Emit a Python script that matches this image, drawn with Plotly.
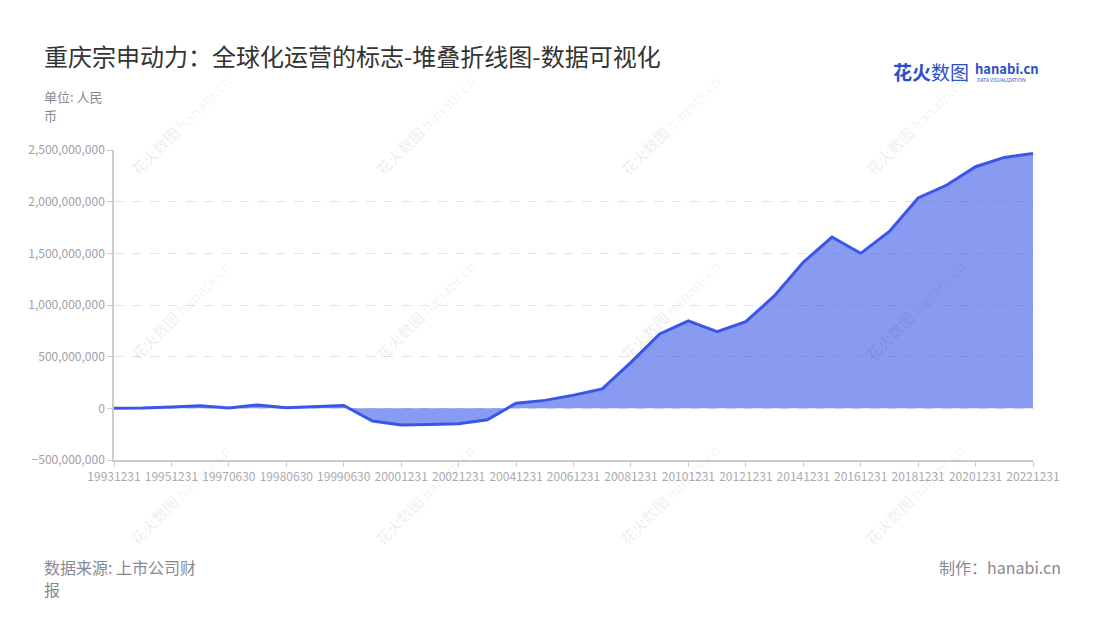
import plotly.graph_objects as go

# Reporting dates (category axis) and the plotted series, in RMB
dates = [
    "19931231", "19941231", "19951231", "19961231", "19970630", "19971231",
    "19980630", "19981231", "19990630", "19991231", "20001231", "20011231",
    "20021231", "20031231", "20041231", "20051231", "20061231", "20071231",
    "20081231", "20091231", "20101231", "20111231", "20121231", "20131231",
    "20141231", "20151231", "20161231", "20171231", "20181231", "20191231",
    "20201231", "20211231", "20221231",
]
values = [
    2e6, 3e6, 12e6, 25e6, 4e6, 33e6,
    6e6, 20e6, 27e6, -123e6, -162e6, -157e6,
    -150e6, -110e6, 50e6, 77e6, 128e6, 188e6,
    445e6, 720e6, 846e6, 742e6, 839e6, 1090e6,
    1413e6, 1658e6, 1500e6, 1712e6, 2036e6, 2161e6,
    2338e6, 2428e6, 2467e6,
]
x_tick_labels = dates[::2]
y_ticks = [-500000000, 0, 500000000, 1000000000, 1500000000, 2000000000, 2500000000]

FONT = "Noto Sans CJK SC"
W, H = 1100, 620
L, R, T, B = 114, 67, 150, 160


def px(x, y):
    """Convert page pixel position to paper coordinates."""
    return (x - L) / (W - L - R), (H - B - y) / (H - T - B)


fig = go.Figure(
    go.Scatter(
        x=dates,
        y=values,
        mode="lines",
        line=dict(color="#3a56e8", width=3),
        fill="tozeroy",
        fillcolor="rgba(58,86,232,0.6)",
        hoverinfo="x+y",
    )
)

annotations = []


def text(x, y, s, size, color, xanchor="left", yanchor="middle", **kw):
    xp, yp = px(x, y)
    annotations.append(dict(
        x=xp, y=yp, xref="paper", yref="paper", text=s, showarrow=False,
        xanchor=xanchor, yanchor=yanchor, align="left", borderpad=0,
        font=dict(family=FONT, size=size, color=color), **kw,
    ))


# faint diagonal watermarks
for cx in (180, 425, 670, 915):
    for cy in (125, 310, 495):
        text(cx, cy, "<b>花火数图</b> hanabi.cn", 15, "rgba(0,0,0,0.06)",
             xanchor="center", textangle=-45)

# title, unit note (wrapped), footer (wrapped)
text(43, 55, "重庆宗申动力：全球化运营的标志-堆叠折线图-数据可视化", 24, "#333333")
text(43, 96, "单位: 人民", 13, "#888890")
text(43, 115, "币", 13, "#888890")
text(43, 567, "数据来源: 上市公司财", 16, "#888890")
text(43, 589, "报", 16, "#888890")
text(1062, 567, "制作：hanabi.cn", 16, "#888890", xanchor="right")

# brand mark top right
text(892, 72, "<b>花火</b>数图", 19, "#2a4fc9")
text(974, 68, "<b>hanabi.cn</b>", 13, "#2a4fc9")
text(976, 79, "DATA VISUALIZATION", 5, "#2a4fc9")

fig.update_layout(
    width=W, height=H, autosize=False,
    margin=dict(l=L, r=R, t=T, b=B, pad=0),
    paper_bgcolor="white", plot_bgcolor="white",
    showlegend=False,
    font=dict(family=FONT),
    annotations=annotations,
    xaxis=dict(
        type="category", range=[0, len(dates) - 1],
        tickmode="array", tickvals=x_tick_labels, ticktext=x_tick_labels,
        tickangle=0, tickfont=dict(size=12, color="#aaaab0"),
        showgrid=False, zeroline=False,
        showline=True, linecolor="#cccccc", linewidth=1.5,
        ticks="outside", ticklen=5, tickcolor="#cccccc",
    ),
    yaxis=dict(
        range=[-500000000, 2500000000],
        tickmode="array", tickvals=y_ticks, tickformat=",.0f",
        tickfont=dict(size=12, color="#a0a0a8"),
        showgrid=True, gridcolor="#e2e2e2", griddash="dash", gridwidth=1,
        zeroline=False,
        showline=True, linecolor="#cccccc", linewidth=1.5,
        ticks="outside", ticklen=5, tickcolor="#cccccc",
    ),
)

fig.write_html("out.html")
